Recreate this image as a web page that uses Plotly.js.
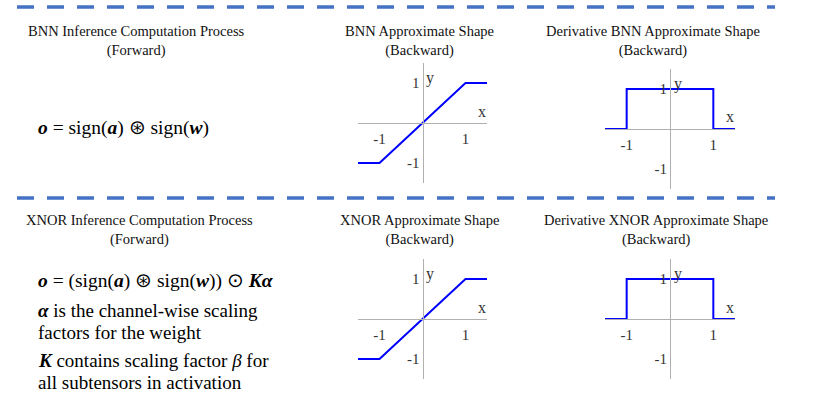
<!DOCTYPE html>
<html>
<head>
<meta charset="utf-8">
<script src="https://cdn.plot.ly/plotly-3.0.1.min.js"></script>
<style>
  html, body { margin: 0; padding: 0; background: #fff; }
  #chart { width: 830px; height: 419px; }
</style>
</head>
<body>
<div id="chart"></div>
<script>
// shapes of the approximations (clipped identity) and their derivative (box)
var approxX = [-1.5, -1, 1, 1.5];
var approxY = [-1, -1, 1, 1];
var derivX = [-1.5, -1, -1, 1, 1, 1.5];
var derivY = [0, 0, 1, 1, 0, 0];
var axisRange = [-1.5, 1.5];
var tickVals = [-1, 1];
var tickLabels = ['-1', '1'];

var titles = [
  'BNN Inference Computation Process<br>(Forward)',
  'BNN Approximate Shape<br>(Backward)',
  'Derivative BNN Approximate Shape<br>(Backward)',
  'XNOR Inference Computation Process<br>(Forward)',
  'XNOR Approximate Shape<br>(Backward)',
  'Derivative XNOR Approximate Shape<br>(Backward)'
];
var bnnFormula = '<b><i>o</i></b>\u00a0=\u00a0sign(<b><i>a</i></b>)\u00a0⊛\u00a0sign(<b><i>w</i></b>)';
var xnorLines = [
  '<b><i>o</i></b>\u00a0=\u00a0(sign(<b><i>a</i></b>)\u00a0⊛\u00a0sign(<b><i>w</i></b>))\u00a0⊙\u00a0<b><i>Kα</i></b>',
  '<b><i>α</i></b> is the channel-wise scaling',
  'factors for the weight',
  '<b><i>K</i></b> contains scaling factor <i>β</i> for',
  'all subtensors in activation'
];

var W = 830, H = 419;
function px(x) { return x / W; }
function py(y) { return 1 - y / H; }

var serif = 'Liberation Serif, Times New Roman, serif';
var blue = '#0000ff';
var axisGray = '#b0b0b0';

// plot boxes in pixels: left, right, top, bottom
var boxes = [
  {l: 358, r: 487, t: 63, b: 183},   // BNN approx
  {l: 605, r: 735, t: 69, b: 189},   // BNN derivative
  {l: 358, r: 487, t: 259, b: 379},  // XNOR approx
  {l: 605, r: 735, t: 259, b: 379}   // XNOR derivative
];

var data = [
  {x: approxX, y: approxY, xaxis: 'x', yaxis: 'y'},
  {x: derivX, y: derivY, xaxis: 'x2', yaxis: 'y2'},
  {x: approxX, y: approxY, xaxis: 'x3', yaxis: 'y3'},
  {x: derivX, y: derivY, xaxis: 'x4', yaxis: 'y4'}
].map(function (t) {
  t.type = 'scatter';
  t.mode = 'lines';
  t.line = {color: blue, width: 2};
  t.hoverinfo = 'skip';
  t.cliponaxis = false;
  return t;
});

var layout = {
  width: W,
  height: H,
  margin: {l: 0, r: 0, t: 0, b: 0},
  paper_bgcolor: '#fff',
  plot_bgcolor: 'rgba(0,0,0,0)',
  showlegend: false,
  font: {family: serif, color: '#222'},
  annotations: [],
  shapes: []
};

var tickFont = {family: serif, size: 15, color: '#333'};

boxes.forEach(function (b, i) {
  var n = i === 0 ? '' : String(i + 1);
  var xd = [px(b.l), px(b.r)];
  var yd = [py(b.b), py(b.t)];
  layout['xaxis' + n] = {
    domain: xd, range: axisRange, anchor: 'free', position: (yd[0] + yd[1]) / 2,
    showline: true, linecolor: axisGray, linewidth: 1, showgrid: false, zeroline: false,
    tickmode: 'array', tickvals: tickVals, ticktext: tickLabels,
    ticks: '', ticklabelstandoff: 2,
    tickfont: tickFont, fixedrange: true
  };
  layout['yaxis' + n] = {
    domain: yd, range: axisRange, anchor: 'free', position: (xd[0] + xd[1]) / 2,
    showline: true, linecolor: axisGray, linewidth: 1, showgrid: false, zeroline: false,
    tickmode: 'array', tickvals: tickVals, ticktext: tickLabels,
    ticks: '', ticklabelstandoff: 0,
    tickfont: tickFont, fixedrange: true
  };
  // axis names
  layout.annotations.push({
    xref: 'x' + n, yref: 'y' + n, x: 1.38, y: 0.3, text: 'x', showarrow: false,
    font: {family: serif, size: 16, color: '#333'}
  });
  layout.annotations.push({
    xref: 'x' + n, yref: 'y' + n, x: 0.18, y: 1.12, text: 'y', showarrow: false,
    font: {family: serif, size: 16, color: '#333'}
  });
});

// panel titles
var titlePos = [[136, 41], [420, 41], [653, 41], [139, 230], [420, 230], [656, 230]];
titles.forEach(function (t, i) {
  layout.annotations.push({
    xref: 'paper', yref: 'paper', x: px(titlePos[i][0]), y: py(titlePos[i][1]),
    text: t, showarrow: false, align: 'center', xanchor: 'center', yanchor: 'middle',
    font: {family: serif, size: 14.5, color: '#111'}
  });
});

// formulas and notes on the left
layout.annotations.push({
  xref: 'paper', yref: 'paper', x: px(36), y: py(128), text: bnnFormula,
  showarrow: false, xanchor: 'left', yanchor: 'middle',
  font: {family: serif, size: 19.5, color: '#000'}
});
var noteY = [281, 310, 332, 360, 382];
xnorLines.forEach(function (t, i) {
  layout.annotations.push({
    xref: 'paper', yref: 'paper', x: px(36), y: py(noteY[i]), text: t,
    showarrow: false, xanchor: 'left', yanchor: 'middle',
    font: {family: serif, size: i === 0 ? 19.5 : 19, color: '#000'}
  });
});

// dashed separators
[7, 198].forEach(function (y) {
  layout.shapes.push({
    type: 'line', xref: 'paper', yref: 'paper',
    x0: px(17), x1: px(775), y0: py(y), y1: py(y),
    line: {color: '#4472c4', width: 3.5, dash: '17px,13px'}
  });
});

Plotly.newPlot('chart', data, layout, {displayModeBar: false, staticPlot: true});
</script>
</body>
</html>
